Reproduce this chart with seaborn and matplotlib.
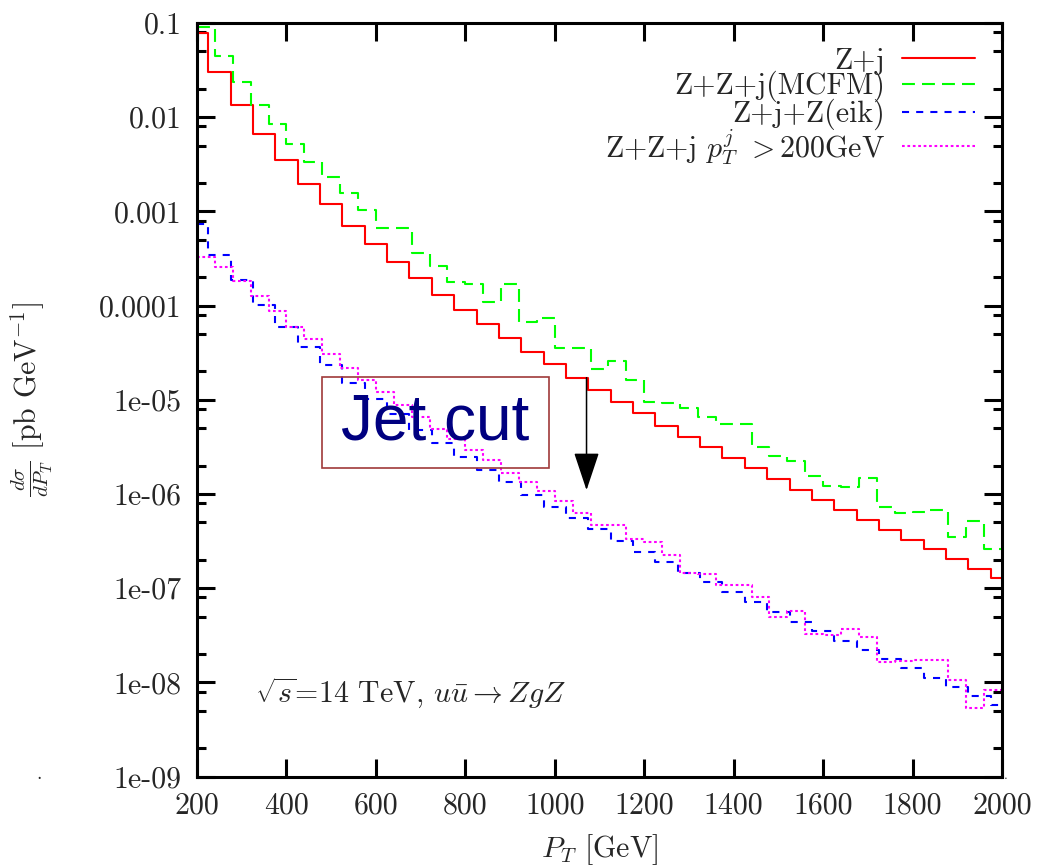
import numpy as np
import pandas as pd
import matplotlib
matplotlib.use("Agg")
import matplotlib.pyplot as plt
import matplotlib.ticker as mticker
from matplotlib.patches import Rectangle
import seaborn as sns

# ---------------- data ----------------
edges_50 = [200, 225, 275, 325, 375, 425, 475, 525, 575, 625, 675, 725, 775, 825,
            875, 925, 975, 1025, 1075, 1125, 1175, 1225, 1275, 1325, 1375, 1425,
            1475, 1525, 1575, 1625, 1675, 1725, 1775, 1825, 1875, 1925, 1975, 2000]
edges_40 = [200, 240, 280, 320, 360, 400, 440, 480, 520, 560, 600, 640, 680, 720,
            760, 800, 840, 880, 920, 960, 1000, 1040, 1080, 1120, 1160, 1200, 1240,
            1280, 1320, 1360, 1400, 1440, 1480, 1520, 1560, 1600, 1640, 1680, 1720,
            1760, 1800, 1840, 1880, 1920, 1960, 2000]

zj = [0.0789, 0.0304, 0.01337, 0.00659, 0.00349, 0.00195, 0.00119, 7.0e-4, 4.48e-4,
      2.92e-4, 1.95e-4, 1.31e-4, 8.99e-5, 6.38e-5, 4.50e-5, 3.24e-5, 2.38e-5, 1.72e-5,
      1.27e-5, 9.41e-6, 7.19e-6, 5.31e-6, 4.06e-6, 3.13e-6, 2.39e-6, 1.87e-6, 1.44e-6,
      1.10e-6, 8.65e-7, 6.77e-7, 5.31e-7, 4.15e-7, 3.25e-7, 2.59e-7, 2.05e-7, 1.61e-7,
      1.29e-7]

zzj_mcfm = [0.0914, 0.0450, 0.02366, 0.01349, 0.00847, 0.00520, 0.00335, 0.00234,
            0.00158, 0.00103, 6.67e-4, 6.59e-4, 3.59e-4, 2.65e-4, 1.77e-4, 1.70e-4,
            1.08e-4, 1.70e-4, 6.65e-5, 7.45e-5, 3.57e-5, 3.55e-5, 2.12e-5, 2.58e-5,
            1.62e-5, 9.41e-6, 9.3e-6, 8.13e-6, 6.62e-6, 5.54e-6, 5.5e-6, 3.13e-6,
            2.53e-6, 2.23e-6, 1.56e-6, 1.23e-6, 1.20e-6, 1.49e-6, 7.34e-7, 6.34e-7,
            6.5e-7, 6.77e-7, 3.47e-7, 5.14e-7, 2.61e-7]

zjz_eik = [7.35e-4, 3.45e-4, 1.87e-4, 1.02e-4, 5.97e-5, 3.66e-5, 2.34e-5, 1.52e-5,
           1.02e-5, 7.02e-6, 4.79e-6, 3.46e-6, 2.49e-6, 1.82e-6, 1.33e-6, 9.77e-7,
           7.34e-7, 5.61e-7, 4.23e-7, 3.20e-7, 2.44e-7, 1.88e-7, 1.46e-7, 1.16e-7,
           9.06e-8, 7.20e-8, 5.60e-8, 4.42e-8, 3.52e-8, 2.77e-8, 2.21e-8, 1.76e-8,
           1.41e-8, 1.12e-8, 9.02e-9, 7.24e-9, 5.77e-9]

zzj_cut = [3.26e-4, 2.59e-4, 1.84e-4, 1.27e-4, 8.83e-5, 5.97e-5, 4.39e-5, 3.04e-5,
           2.19e-5, 1.62e-5, 1.20e-5, 8.81e-6, 6.62e-6, 4.87e-6, 3.81e-6, 2.94e-6,
           2.32e-6, 1.69e-6, 1.33e-6, 1.08e-6, 8.5e-7, 6.25e-7, 4.69e-7, 4.69e-7,
           3.33e-7, 3.07e-7, 2.25e-7, 1.44e-7, 1.43e-7, 1.08e-7, 1.08e-7, 8.13e-8,
           4.92e-8, 5.74e-8, 3.27e-8, 3.2e-8, 3.70e-8, 3.02e-8, 1.64e-8, 1.68e-8,
           1.73e-8, 1.73e-8, 1.06e-8, 5.40e-9, 8.32e-9]

labels = ["Z+j", "Z+Z+j(MCFM)", "Z+j+Z(eik)", r"Z+Z+j $p_T^j$ $>$200GeV"]
x_ticks = [200, 400, 600, 800, 1000, 1200, 1400, 1600, 1800, 2000]
y_ticks = [1e-1, 1e-2, 1e-3, 1e-4, 1e-5, 1e-6, 1e-7, 1e-8, 1e-9]
y_ticklabels = ["0.1", "0.01", "0.001", "0.0001", "1e-05", "1e-06", "1e-07", "1e-08", "1e-09"]
arrow_x = 1071
arrow_from, arrow_to = 1.72e-5, 1.1e-6

# ---------------- style ----------------
sns.set_theme(style="ticks")
plt.rcParams["font.family"] = ["cmr10", "DejaVu Serif"]
plt.rcParams["mathtext.fontset"] = "cm"
plt.rcParams["axes.unicode_minus"] = False
FS = 21.5

fig = plt.figure(figsize=(10.39, 8.65), dpi=100)
ax = fig.add_axes([197 / 1039, 1 - 776.7 / 865, 805 / 1039, 753.7 / 865])


def step_df(edges, vals):
    return pd.DataFrame({"x": edges, "y": list(vals) + [vals[-1]]})


series = [
    (edges_50, zj, "#ff0000", "-"),
    (edges_40, zzj_mcfm, "#00ff00", (0, (6.2, 3.4))),
    (edges_50, zjz_eik, "#0000ff", (0, (3.4, 3.4))),
    (edges_40, zzj_cut, "#ff00ff", (0, (1.3, 1.3))),
]
for (ed, vals, col, ls), lab in zip(series, labels):
    sns.lineplot(data=step_df(ed, vals), x="x", y="y", ax=ax, color=col,
                 linestyle=ls, linewidth=1.5, drawstyle="steps-post",
                 label=lab, estimator=None, sort=False)

ax.set_yscale("log")
ax.set_xlim(200, 2000)
ax.set_ylim(1e-9, 1e-1)

ax.xaxis.set_major_locator(mticker.FixedLocator(x_ticks))
ax.xaxis.set_major_formatter(mticker.FixedFormatter([str(v) for v in x_ticks]))
ax.xaxis.set_minor_locator(mticker.NullLocator())
ax.yaxis.set_major_locator(mticker.FixedLocator(y_ticks))
ax.yaxis.set_major_formatter(mticker.FixedFormatter(y_ticklabels))
ax.yaxis.set_minor_locator(mticker.LogLocator(base=10, subs=(2.0, 5.0, 8.0), numticks=30))
ax.yaxis.set_minor_formatter(mticker.NullFormatter())

for s in ax.spines.values():
    s.set_visible(True)
    s.set_linewidth(2.2)
    s.set_color("black")
ax.tick_params(which="both", direction="in", top=True, right=True, color="black")
ax.tick_params(which="major", length=13, width=2.2, labelsize=FS)
ax.tick_params(which="minor", length=6.5, width=2.2)
ax.tick_params(axis="x", which="major", pad=11)
ax.tick_params(axis="y", which="major", pad=11)

ax.set_xlabel(r"$P_T$ [GeV]", fontsize=FS, labelpad=9)
ax.set_ylabel(r"$\frac{d\sigma}{dP_T}$ [pb GeV$^{-1}$]", fontsize=FS)
ax.yaxis.label.set_verticalalignment("center")
ax.yaxis.set_label_coords(-0.205, 0.50)

leg = ax.legend(loc="upper right", bbox_to_anchor=(0.9665, 0.968), markerfirst=False,
                frameon=False, fontsize=FS, handlelength=2.45, handletextpad=0.57,
                labelspacing=-0.12, borderpad=0, borderaxespad=0)

ax.text(0.072, 0.0978, r"$\sqrt{s}$=14 TeV, $u\bar{u}\rightarrow ZgZ$",
        transform=ax.transAxes, fontsize=FS, va="baseline", ha="left")

ax.add_patch(Rectangle((0.155, 0.409), 0.282, 0.121, transform=ax.transAxes,
                       fill=False, edgecolor="#a03a3a", linewidth=1.2, zorder=4))
ax.text(0.2957, 0.4693, "Jet cut", transform=ax.transAxes, fontsize=46,
        family="Liberation Sans", color="#000080", ha="center", va="center", zorder=5)

ax.annotate("", xy=(arrow_x, arrow_to), xytext=(arrow_x, arrow_from),
            arrowprops=dict(arrowstyle="-|>,head_length=2.4,head_width=0.8",
                            mutation_scale=10, color="black", lw=1.1,
                            shrinkA=0, shrinkB=0), zorder=5)

fig.text(39 / 1039, 1 - 779 / 865, ".", fontsize=14, ha="center", va="baseline")
fig.text(1006 / 1039, 1 - 779 / 865, ".", fontsize=10, ha="center", va="baseline")

fig.savefig("out.png", dpi=100)
